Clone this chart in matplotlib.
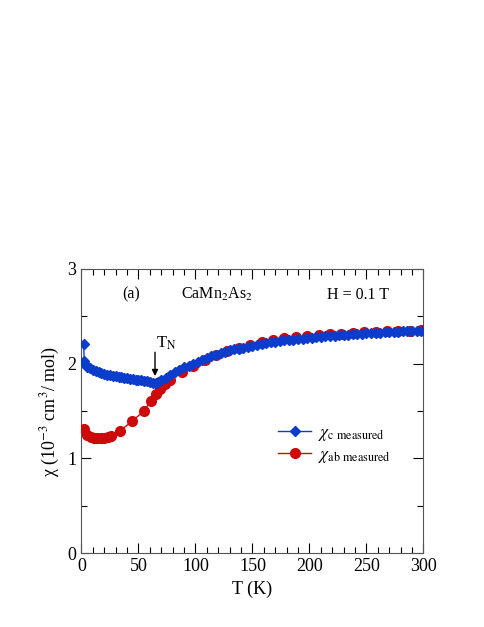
import numpy as np
import matplotlib
matplotlib.use("Agg")
import matplotlib.pyplot as plt
from matplotlib.ticker import MultipleLocator

plt.rcParams["font.family"] = ["Liberation Serif", "DejaVu Serif"]
plt.rcParams["mathtext.fontset"] = "stix"

# chi_c (H || c), 10^-3 cm^3/mol
t_c = [1.8, 2.5, 4, 5, 7.5, 10, 12.5, 15, 17.5, 20, 22.5, 25, 27.5, 30, 32.5, 35, 37.5,
       40, 42.5, 45, 47.5, 50, 52.5, 55, 57.5, 60, 62.5, 65, 67.5, 70,
       74, 78, 82, 86, 90, 94, 98, 102, 106, 110, 114, 118, 122, 126, 130, 134, 138,
       142, 146, 150, 154, 158, 162, 166, 170, 174, 178, 182, 186, 190, 194, 198,
       202, 206, 210, 214, 218, 222, 226, 230, 234, 238, 242, 246, 250, 254, 258,
       262, 266, 270, 274, 278, 282, 286, 290, 294, 298]
chi_c = [2.21, 2.03, 1.99, 1.97, 1.95, 1.93, 1.92, 1.91, 1.90, 1.89, 1.885, 1.88, 1.87,
         1.865, 1.86, 1.855, 1.85, 1.845, 1.84, 1.835, 1.83, 1.83, 1.825, 1.82, 1.815,
         1.81, 1.80, 1.795, 1.81, 1.83,
         1.85, 1.88, 1.91, 1.93, 1.96, 1.98, 2.00, 2.02, 2.04, 2.06, 2.08, 2.09, 2.11,
         2.12, 2.14, 2.15, 2.16, 2.17, 2.18, 2.19, 2.20, 2.21, 2.22, 2.225, 2.23, 2.24,
         2.245, 2.25, 2.255, 2.26, 2.265, 2.27, 2.275, 2.28, 2.285, 2.29, 2.29, 2.295,
         2.30, 2.30, 2.305, 2.31, 2.31, 2.315, 2.32, 2.32, 2.325, 2.325, 2.33, 2.33,
         2.335, 2.335, 2.34, 2.34, 2.345, 2.345, 2.35]

# chi_ab (H || ab)
t_ab = [2, 5, 8, 11, 14, 17, 20, 23, 26, 34, 44, 55, 61, 65, 69, 73, 78, 88, 98, 108,
        118, 128, 138, 148, 158, 168, 178, 188, 198, 208, 218, 228, 238, 248, 258, 268,
        278, 288, 298]
chi_ab = [1.31, 1.25, 1.23, 1.22, 1.21, 1.21, 1.22, 1.23, 1.24, 1.29, 1.39, 1.50, 1.61,
          1.68, 1.73, 1.78, 1.83, 1.91, 1.98, 2.04, 2.09, 2.13, 2.17, 2.20, 2.23, 2.25,
          2.27, 2.28, 2.29, 2.30, 2.31, 2.315, 2.32, 2.33, 2.335, 2.34, 2.345, 2.35, 2.36]

fig = plt.figure(figsize=(4.85, 6.27), dpi=100)
ax = fig.add_axes([0.168, 0.118, 0.705, 0.453])

ax.plot(t_ab, chi_ab, "-o", color="#cc0a0a", lw=1.0, ms=7, mec="#cc0a0a",
        label=r"$\chi_{\rm ab\ measured}$", zorder=3)
ax.plot(t_c, chi_c, "-D", color="#0c3ccc", lw=1.0, ms=5, mec="#0c3ccc",
        label=r"$\chi_{\rm c\ measured}$", zorder=4)

ax.set_xlim(0, 300)
ax.set_ylim(0, 3)
ax.xaxis.set_major_locator(MultipleLocator(50))
ax.xaxis.set_minor_locator(MultipleLocator(10))
ax.yaxis.set_major_locator(MultipleLocator(1))
ax.yaxis.set_minor_locator(MultipleLocator(0.5))
ax.tick_params(which="both", direction="in", top=True, right=True, labelsize=13)
ax.tick_params(which="major", length=7, width=0.8)
ax.tick_params(which="minor", length=4, width=0.8)
for s in ax.spines.values():
    s.set_color("#555555")

ax.set_xlabel("T (K)", fontsize=13)
ax.set_ylabel(r"χ (10$^{-3}$ cm$^3$/ mol)", fontsize=13)

ax.text(0.145, 0.91, "(a)", transform=ax.transAxes, fontsize=11.5, ha="center", va="center")
ax.text(0.395, 0.91, r"CaMn$_2$As$_2$", transform=ax.transAxes, fontsize=11.5,
        ha="center", va="center")
ax.text(0.81, 0.91, "H = 0.1 T", transform=ax.transAxes, fontsize=11.5, ha="center", va="center")
ax.annotate("", xy=(64.5, 1.84), xytext=(64.5, 2.15),
            arrowprops=dict(arrowstyle="-|>", color="black", lw=1.0, mutation_scale=9))
ax.text(65, 2.21, r"T$_{\rm N}$", fontsize=12, ha="left", va="center")

h, l = ax.get_legend_handles_labels()
ax.legend(h[::-1], l[::-1], loc="center left", bbox_to_anchor=(0.555, 0.38), frameon=False,
          fontsize=12.5, handlelength=1.9, handletextpad=0.4, borderaxespad=0,
          labelspacing=0.25)

fig.savefig("out.png", dpi=100)
